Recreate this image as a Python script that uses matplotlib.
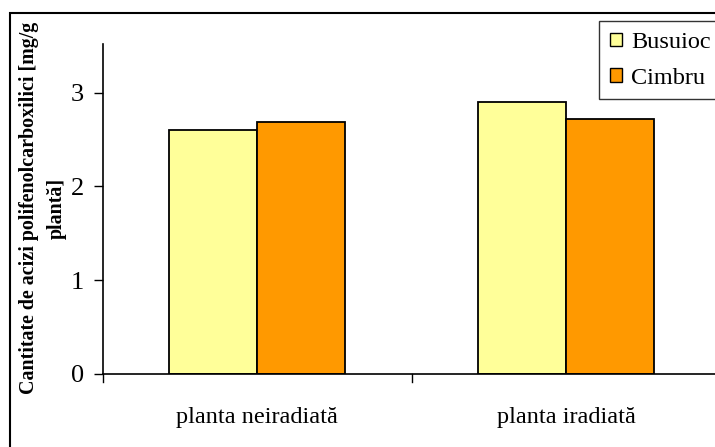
import matplotlib
matplotlib.use("Agg")
import matplotlib.pyplot as plt
from matplotlib.patches import Rectangle
import numpy as np

categories = ["planta neiradiată", "planta iradiată"]
series_names = ["Busuioc", "Cimbru"]
busuioc = [2.60, 2.90]
cimbru = [2.69, 2.72]
yticks = [0, 1, 2, 3]
ylabel = "Cantitate de acizi polifenolcarboxilici [mg/g\nplantă]"

colors = ["#FFFF99", "#FF9900"]

plt.rcParams["font.family"] = ["Liberation Serif", "DejaVu Serif"]

W, H = 715, 447
fig = plt.figure(figsize=(W / 100, H / 100), dpi=100)

# plot area in pixel terms
left, right, bottom, top = 103, 720.4, 374, 44
ax = fig.add_axes([left / W, 1 - bottom / H, (right - left) / W, (bottom - top) / H])

x = np.arange(len(categories))
bw = 0.285
ax.bar(x - bw / 2, busuioc, bw, color=colors[0], edgecolor="black", linewidth=1.3, label=series_names[0])
ax.bar(x + bw / 2, cimbru, bw, color=colors[1], edgecolor="black", linewidth=1.3, label=series_names[1])

ax.set_xlim(-0.5, 1.5)
ax.set_ylim(0, 3.52)
ax.set_yticks(yticks)
ax.set_yticklabels([str(v) for v in yticks], fontsize=19)
ax.set_xticks([-0.5, 0.5, 1.5])
ax.set_xticklabels([])
ax.tick_params(axis="x", direction="in", length=0, width=1)
ax.tick_params(axis="y", direction="out", length=6.5, width=1, pad=7)
for xt in [-0.5, 0.5]:
    ax.plot([xt, xt], [0, -0.08], color="black", lw=1, clip_on=False)
for i, c in enumerate(categories):
    ax.text(i, -0.46, c, ha="center", va="center", fontsize=17.5)

for s in ["top", "right"]:
    ax.spines[s].set_visible(False)
for s in ["left", "bottom"]:
    ax.spines[s].set_linewidth(1.2)

fig.text(43 / W, 1 - 208 / H, ylabel, rotation=90, ha="center", va="center",
         fontsize=14.4, fontweight="bold", linespacing=1.5, multialignment="center")

# outer chart frame
fig.patches.append(Rectangle((10 / W, -0.1), 1.2, 1 - 13 / H + 0.1, transform=fig.transFigure,
                             fill=False, edgecolor="black", linewidth=1.5))

leg = ax.legend(loc="upper left", bbox_to_anchor=(599 / W, 1 - 21 / H), bbox_transform=fig.transFigure,
                borderaxespad=0, fontsize=17.5, handlelength=0.48, handleheight=0.48,
                handletextpad=0.4, borderpad=0.45, labelspacing=0.6, fancybox=False,
                frameon=True, edgecolor="black")
leg.get_frame().set_linewidth(1.0)
for h in leg.legend_handles:
    h.set_linewidth(1.0)

fig.savefig("out.png", dpi=100)
